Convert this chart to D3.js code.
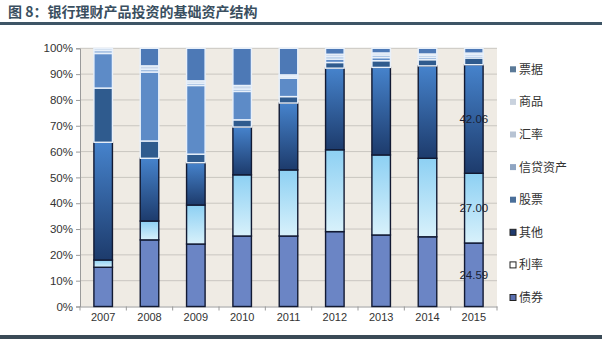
<!DOCTYPE html>
<html><head><meta charset="utf-8">
<script src="https://cdn.jsdelivr.net/npm/d3@7"></script>
<style>
body{margin:0;background:#fff;}
svg{display:block;}
</style></head>
<body>
<svg id="chart" width="602" height="339"></svg>
<script>
const years = ["2007","2008","2009","2010","2011","2012","2013","2014","2015"];
const seriesNames = ["债券","利率","其他","股票","信贷资产","汇率","商品","票据"];
const bond     = [15.2, 25.8, 24.2, 27.3, 27.3, 29.0, 27.7, 27.0, 24.59];
const rate     = [2.8, 7.3, 15.1, 23.7, 25.6, 31.7, 31.0, 30.4, 27.00];
const other    = [45.6, 24.3, 16.4, 18.5, 25.9, 31.6, 33.9, 35.8, 42.06];
const stock    = [21.0, 6.7, 3.3, 2.8, 2.5, 2.2, 2.6, 2.4, 2.6];
const credit   = [13.4, 26.7, 26.6, 11.0, 7.1, 1.3, 1.2, 0.8, 0.7];
const fx       = [1.2, 1.1, 0.9, 0.9, 0.6, 1.0, 1.0, 0.8, 0.7];
const commod   = [0.8, 1.3, 0.9, 1.4, 0.7, 0.9, 0.8, 0.6, 0.5];
const bills    = [0.0, 6.8, 12.6, 14.4, 10.3, 2.3, 1.8, 2.2, 1.85];
const yTicks   = [0,10,20,30,40,50,60,70,80,90,100];
const labelled = [{year:"2015", series:"债券", text:"24.59"},{year:"2015", series:"利率", text:"27.00"},{year:"2015", series:"其他", text:"42.06"}];

const seriesData = [bond, rate, other, stock, credit, fx, commod, bills];
const fills = ["#6b85c5","url(#gRate)","url(#gOther)","#2f5b8e","#5d8bc7","#a3bfe2","#cbd9ec","#4d79b6"];
const strokes = ["#121a33","#121a33","#121a33","#e8f0fa","#e8f0fa","#e8f0fa","#e8f0fa","#e8f0fa"];
const legendFills = ["#5a6fb0","#ffffff","#1f3a6e","#4a6f9a","#8fa5c2","#b7c3d3","#c9d2de","#5b7a98"];
const legendStrokes = ["#222","#222","#222","none","none","none","none","none"];

const table = years.map((y,i)=>{const o={year:y}; seriesNames.forEach((s,j)=>o[s]=seriesData[j][i]); return o;});

const svg = d3.select("#chart");
const defs = svg.append("defs");
const g1 = defs.append("linearGradient").attr("id","gOther").attr("x1",0).attr("y1",0).attr("x2",0).attr("y2",1);
g1.append("stop").attr("offset","0%").attr("stop-color","#4683cc");
g1.append("stop").attr("offset","100%").attr("stop-color","#1d3b6c");
const g2 = defs.append("linearGradient").attr("id","gRate").attr("x1",0).attr("y1",0).attr("x2",0).attr("y2",1);
g2.append("stop").attr("offset","0%").attr("stop-color","#8dd0f3");
g2.append("stop").attr("offset","100%").attr("stop-color","#d8f1fb");

// title
svg.append("text").attr("x",8).attr("y",17).text("图 8：银行理财产品投资的基础资产结构")
  .attr("font-family","Noto Sans CJK SC").attr("font-weight","bold").attr("font-size",14).attr("fill","#3a4f60");
svg.append("rect").attr("x",0).attr("y",22).attr("width",602).attr("height",3).attr("fill","#3e5566");
svg.append("rect").attr("x",0).attr("y",335).attr("width",602).attr("height",4).attr("fill","#3a4a56");

const m = {left:80, right:497, top:48.3, bottom:306.5};
const x = d3.scaleBand().domain(years).range([m.left,m.right]).paddingInner(0.6).paddingOuter(0.3);
const y = d3.scaleLinear().domain([0,100]).range([m.bottom,m.top]);

svg.append("rect").attr("x",m.left).attr("y",m.top).attr("width",m.right-m.left).attr("height",m.bottom-m.top).attr("fill","#efebe4");

// grid
svg.append("g").selectAll("line").data(yTicks.filter(d=>d>0)).join("line")
  .attr("x1",m.left).attr("x2",m.right).attr("y1",d=>y(d)).attr("y2",d=>y(d))
  .attr("stroke","#c9c6c0").attr("stroke-width",1);

// axes
const yAxis = svg.append("g").attr("transform",`translate(${m.left},0)`)
  .call(d3.axisLeft(y).tickValues(yTicks).tickFormat(d=>d+"%").tickSize(4).tickPadding(3));
yAxis.select(".domain").attr("stroke","#9a9a9a");
yAxis.selectAll(".tick line").attr("stroke","#9a9a9a");
yAxis.selectAll("text").attr("font-family","Liberation Sans, Arial").attr("font-size",11.5).attr("fill","#333");

const xAxis = svg.append("g").attr("transform",`translate(0,${m.bottom})`)
  .call(d3.axisBottom(x).tickSize(0).tickPadding(7));
xAxis.select(".domain").attr("stroke","#9a9a9a");
xAxis.selectAll("text").attr("font-family","Liberation Sans, Arial").attr("font-size",11).attr("fill","#333");
const step = x.step();
svg.append("g").selectAll("line").data(d3.range(years.length+1)).join("line")
  .attr("x1",i=>m.left+i*step).attr("x2",i=>m.left+i*step).attr("y1",m.bottom).attr("y2",m.bottom+4)
  .attr("stroke","#9a9a9a");

// stacks
const stack = d3.stack().keys(seriesNames)(table);
const layers = svg.append("g").selectAll("g").data(stack).join("g")
  .attr("fill",(d,i)=>fills[i]).attr("stroke",(d,i)=>strokes[i]).attr("stroke-width",1.4);
layers.selectAll("rect").data(d=>d).join("rect")
  .attr("x",d=>x(d.data.year)).attr("width",x.bandwidth())
  .attr("y",d=>y(d[1])).attr("height",d=>Math.max(0,y(d[0])-y(d[1])))
  .attr("display",d=>d[1]-d[0]>0?null:"none");

// value labels
svg.append("g").selectAll("text").data(labelled).join("text")
  .attr("x",d=>x(d.year)+x.bandwidth()/2)
  .attr("y",d=>{const layer=stack[seriesNames.indexOf(d.series)]; const p=layer[years.indexOf(d.year)]; return y((p[0]+p[1])/2)+4;})
  .attr("text-anchor","middle").text(d=>d.text)
  .attr("font-family","Liberation Sans, Arial").attr("font-size",11.5).attr("fill","#1a1f33");

// legend
const legendOrder = seriesNames.map((s,i)=>i).reverse();
const lg = svg.append("g").selectAll("g").data(legendOrder).join("g")
  .attr("transform",(d,k)=>`translate(510,${69.3+k*32.6})`);
lg.append("rect").attr("x",0).attr("y",-3).attr("width",6).attr("height",6)
  .attr("fill",d=>legendFills[d]).attr("stroke",d=>legendStrokes[d]).attr("stroke-width",1);
lg.append("text").attr("x",9).attr("y",4.5).text(d=>seriesNames[d])
  .attr("font-family","Noto Sans CJK SC").attr("font-size",12).attr("fill","#333");
</script>
</body></html>
